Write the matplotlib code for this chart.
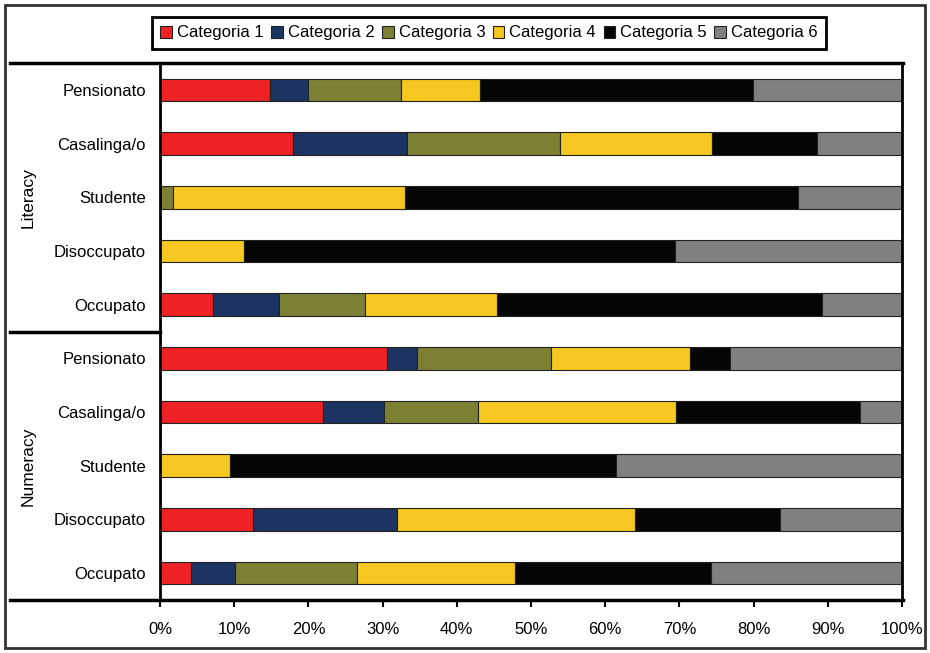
import matplotlib.pyplot as plt
from matplotlib.lines import Line2D
from matplotlib.patches import Rectangle
import numpy as np

plt.rcParams['font.family'] = ['Liberation Sans Narrow', 'Liberation Sans', 'DejaVu Sans']

# rows from top to bottom
groups = ["Literacy", "Numeracy"]
jobs = ["Pensionato", "Casalinga/o", "Studente", "Disoccupato", "Occupato"]
labels = jobs + jobs

series = ["Categoria 1", "Categoria 2", "Categoria 3", "Categoria 4", "Categoria 5", "Categoria 6"]
colors = ["#ee2224", "#1b3461", "#7c8033", "#f5c720", "#050505", "#808080"]

# percentages per category, one value per row (Literacy x5 then Numeracy x5)
cat1 = [14.8, 17.9, 0.0, 0.0, 7.1, 30.6, 22.0, 0.0, 12.5, 4.2]
cat2 = [5.2, 15.4, 0.0, 0.0, 8.9, 4.0, 8.2, 0.0, 19.5, 5.9]
cat3 = [12.5, 20.6, 1.7, 0.0, 11.6, 18.1, 12.7, 0.0, 0.0, 16.5]
cat4 = [10.6, 20.5, 31.3, 11.3, 17.8, 18.7, 26.6, 9.4, 32.0, 21.3]
cat5 = [36.8, 14.2, 53.0, 58.1, 43.8, 5.4, 24.8, 52.0, 19.5, 26.4]
cat6 = [20.1, 11.4, 14.0, 30.6, 10.8, 23.2, 5.7, 38.6, 16.5, 25.7]

fig = plt.figure(figsize=(9.3, 6.53), dpi=100)
W, H = 930, 653
ax = fig.add_axes([160 / W, 1 - 600 / H, (902 - 160) / W, (600 - 63) / H])

data = np.array([cat1, cat2, cat3, cat4, cat5, cat6])
y = np.arange(len(labels))
left = np.zeros(len(labels))
handles = []
for vals, name, col in zip(data, series, colors):
    b = ax.barh(y, vals, left=left, height=0.42, color=col, edgecolor="#222222",
                linewidth=0.8, label=name)
    left += vals
    handles.append(b)

ax.set_xlim(0, 100)
ax.set_ylim(len(labels) - 0.5, -0.5)
ax.set_xticks(np.arange(0, 101, 10))
ax.set_xticklabels([f"{v}%" for v in range(0, 101, 10)], fontsize=12)
ax.set_yticks(y)
ax.set_yticklabels(labels, fontsize=12)
ax.tick_params(axis="y", length=0, pad=10)
ax.tick_params(axis="x", length=5, width=1.5, direction="out", pad=11)
for s in ax.spines.values():
    s.set_linewidth(2)
ax.spines["top"].set_visible(False)
ax.spines["bottom"].set_visible(False)

# frame lines extending to the left
def hline(yp, x0, x1, lw=2.5):
    fig.add_artist(Line2D([x0 / W, x1 / W], [1 - yp / H, 1 - yp / H], color="black", lw=lw))

hline(63, 10, 903)
hline(332, 10, 160)
hline(600, 10, 903)

fig.add_artist(Rectangle((5 / W, 5 / H), 920 / W, 643 / H, fill=False,
                         edgecolor="#333333", lw=2))

fig.text(28 / W, 1 - 198 / H, groups[0], rotation=90, ha="center", va="center",
         fontsize=12.5, family=["Liberation Sans", "DejaVu Sans"])
fig.text(28 / W, 1 - 466 / H, groups[1], rotation=90, ha="center", va="center",
         fontsize=12.5, family=["Liberation Sans", "DejaVu Sans"])

leg = fig.legend(handles=handles, loc="center", bbox_to_anchor=(489 / W, 1 - 33 / H),
                 ncol=6, fontsize=12, frameon=True, fancybox=False, handlelength=0.7,
                 handleheight=0.7, handletextpad=0.3, columnspacing=0.45,
                 borderpad=0.5, edgecolor="black", framealpha=1)
leg.get_frame().set_linewidth(2)

fig.savefig("out.png", dpi=100)
